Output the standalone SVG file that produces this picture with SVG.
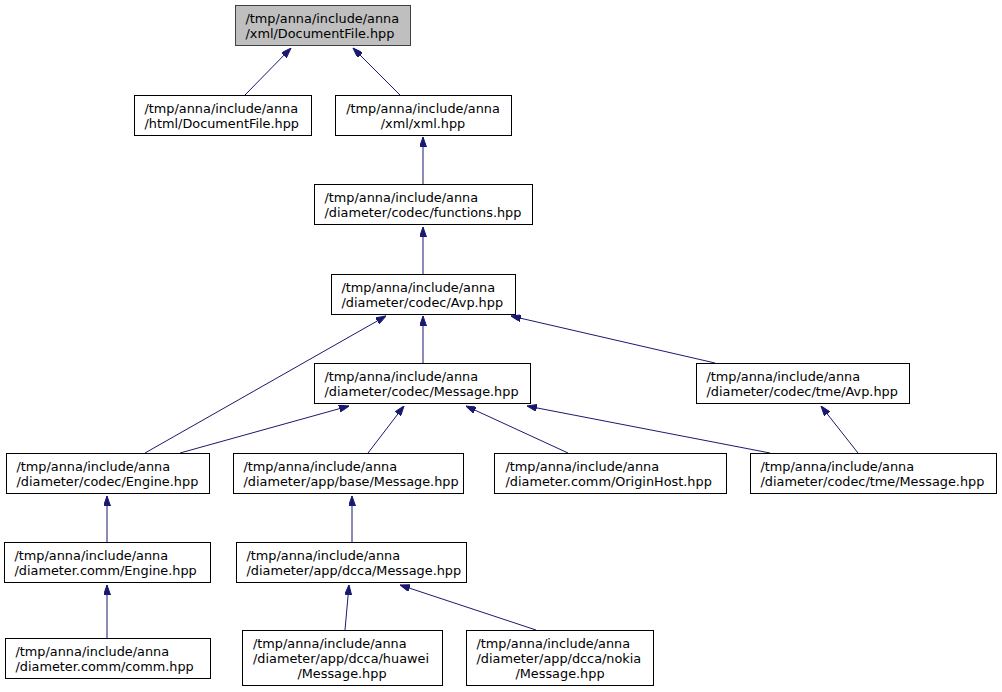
<svg xmlns="http://www.w3.org/2000/svg" width="1002" height="692" viewBox="0 0 1002 692">
<style>
.n rect{fill:#ffffff;stroke:#000000;stroke-width:1}
.n.root rect{fill:#bfbfbf;stroke:#404040}
.n text{font-family:"DejaVu Sans",sans-serif;font-size:12.85px;fill:#000000}
.e path{fill:none;stroke:#191970;stroke-width:1;marker-end:url(#ah)}
</style>
<defs>
<marker id="ah" viewBox="0 0 10 7" refX="10" refY="3.5" markerWidth="10" markerHeight="7" markerUnits="userSpaceOnUse" orient="auto">
<path d="M0,0 L10,3.5 L0,7 z" fill="#191970" stroke="#191970"/>
</marker>
</defs>
<rect width="1002" height="692" fill="#ffffff"/>
<g class="e" id="edges">
<path d="M245,95 L291,48"/>
<path d="M400,95 L353,48"/>
<path d="M423,184 L423,137"/>
<path d="M423,274 L423,227"/>
<path d="M423,363 L423,316"/>
<path d="M715,363 L511,316"/>
<path d="M145,453 L386,316"/>
<path d="M180,453 L349,406"/>
<path d="M368,453 L404,406"/>
<path d="M568,453 L466,406"/>
<path d="M770,453 L527,406"/>
<path d="M858,453 L821,406"/>
<path d="M107,542 L107,496"/>
<path d="M352,542 L352,496"/>
<path d="M107,638 L107,585"/>
<path d="M345,630 L349,585"/>
<path d="M536,630 L400,585"/>
</g>
<g class="n root" id="n0"><rect x="235.5" y="5.5" width="175" height="40"/><text x="245.5" y="22.5">/tmp/anna/include/anna</text><text x="245.5" y="37.5">/xml/DocumentFile.hpp</text></g>
<g class="n" id="n1"><rect x="134.5" y="95.5" width="177" height="40"/><text x="144.5" y="112.5">/tmp/anna/include/anna</text><text x="144.5" y="127.5">/html/DocumentFile.hpp</text></g>
<g class="n" id="n2"><rect x="335.5" y="95.5" width="176" height="40"/><text x="423" y="112.5" text-anchor="middle">/tmp/anna/include/anna</text><text x="423" y="127.5" text-anchor="middle">/xml/xml.hpp</text></g>
<g class="n" id="n3"><rect x="314.5" y="184.5" width="218" height="40"/><text x="324.5" y="201.5">/tmp/anna/include/anna</text><text x="324.5" y="216.5">/diameter/codec/functions.hpp</text></g>
<g class="n" id="n4"><rect x="331.5" y="274.5" width="184" height="40"/><text x="341.5" y="291.5">/tmp/anna/include/anna</text><text x="341.5" y="306.5">/diameter/codec/Avp.hpp</text></g>
<g class="n" id="n5"><rect x="314.5" y="363.5" width="216" height="40"/><text x="324.5" y="380.5">/tmp/anna/include/anna</text><text x="324.5" y="395.5">/diameter/codec/Message.hpp</text></g>
<g class="n" id="n6"><rect x="696.5" y="363.5" width="213" height="40"/><text x="706.5" y="380.5">/tmp/anna/include/anna</text><text x="706.5" y="395.5">/diameter/codec/tme/Avp.hpp</text></g>
<g class="n" id="n7"><rect x="6.5" y="453.5" width="203" height="40"/><text x="16.5" y="470.5">/tmp/anna/include/anna</text><text x="16.5" y="485.5">/diameter/codec/Engine.hpp</text></g>
<g class="n" id="n8"><rect x="233.5" y="453.5" width="230" height="40"/><text x="243.5" y="470.5">/tmp/anna/include/anna</text><text x="243.5" y="485.5">/diameter/app/base/Message.hpp</text></g>
<g class="n" id="n9"><rect x="494.5" y="453.5" width="232" height="40"/><text x="505.5" y="470.5">/tmp/anna/include/anna</text><text x="505.5" y="485.5">/diameter.comm/OriginHost.hpp</text></g>
<g class="n" id="n10"><rect x="750.5" y="453.5" width="246" height="40"/><text x="760.5" y="470.5">/tmp/anna/include/anna</text><text x="760.5" y="485.5">/diameter/codec/tme/Message.hpp</text></g>
<g class="n" id="n11"><rect x="4.5" y="542.5" width="206" height="40"/><text x="14.5" y="559.5">/tmp/anna/include/anna</text><text x="14.5" y="574.5">/diameter.comm/Engine.hpp</text></g>
<g class="n" id="n12"><rect x="236.5" y="542.5" width="230" height="40"/><text x="246.5" y="559.5">/tmp/anna/include/anna</text><text x="246.5" y="574.5">/diameter/app/dcca/Message.hpp</text></g>
<g class="n" id="n13"><rect x="5.5" y="638.5" width="205" height="40"/><text x="15.5" y="655.5">/tmp/anna/include/anna</text><text x="15.5" y="670.5">/diameter.comm/comm.hpp</text></g>
<g class="n" id="n14"><rect x="242.5" y="630.5" width="200" height="55"/><text x="253" y="647.5">/tmp/anna/include/anna</text><text x="253" y="662.5">/diameter/app/dcca/huawei</text><text x="342" y="677.5" text-anchor="middle">/Message.hpp</text></g>
<g class="n" id="n15"><rect x="466.5" y="630.5" width="187" height="55"/><text x="476.5" y="647.5">/tmp/anna/include/anna</text><text x="476.5" y="662.5">/diameter/app/dcca/nokia</text><text x="560" y="677.5" text-anchor="middle">/Message.hpp</text></g>
</svg>
